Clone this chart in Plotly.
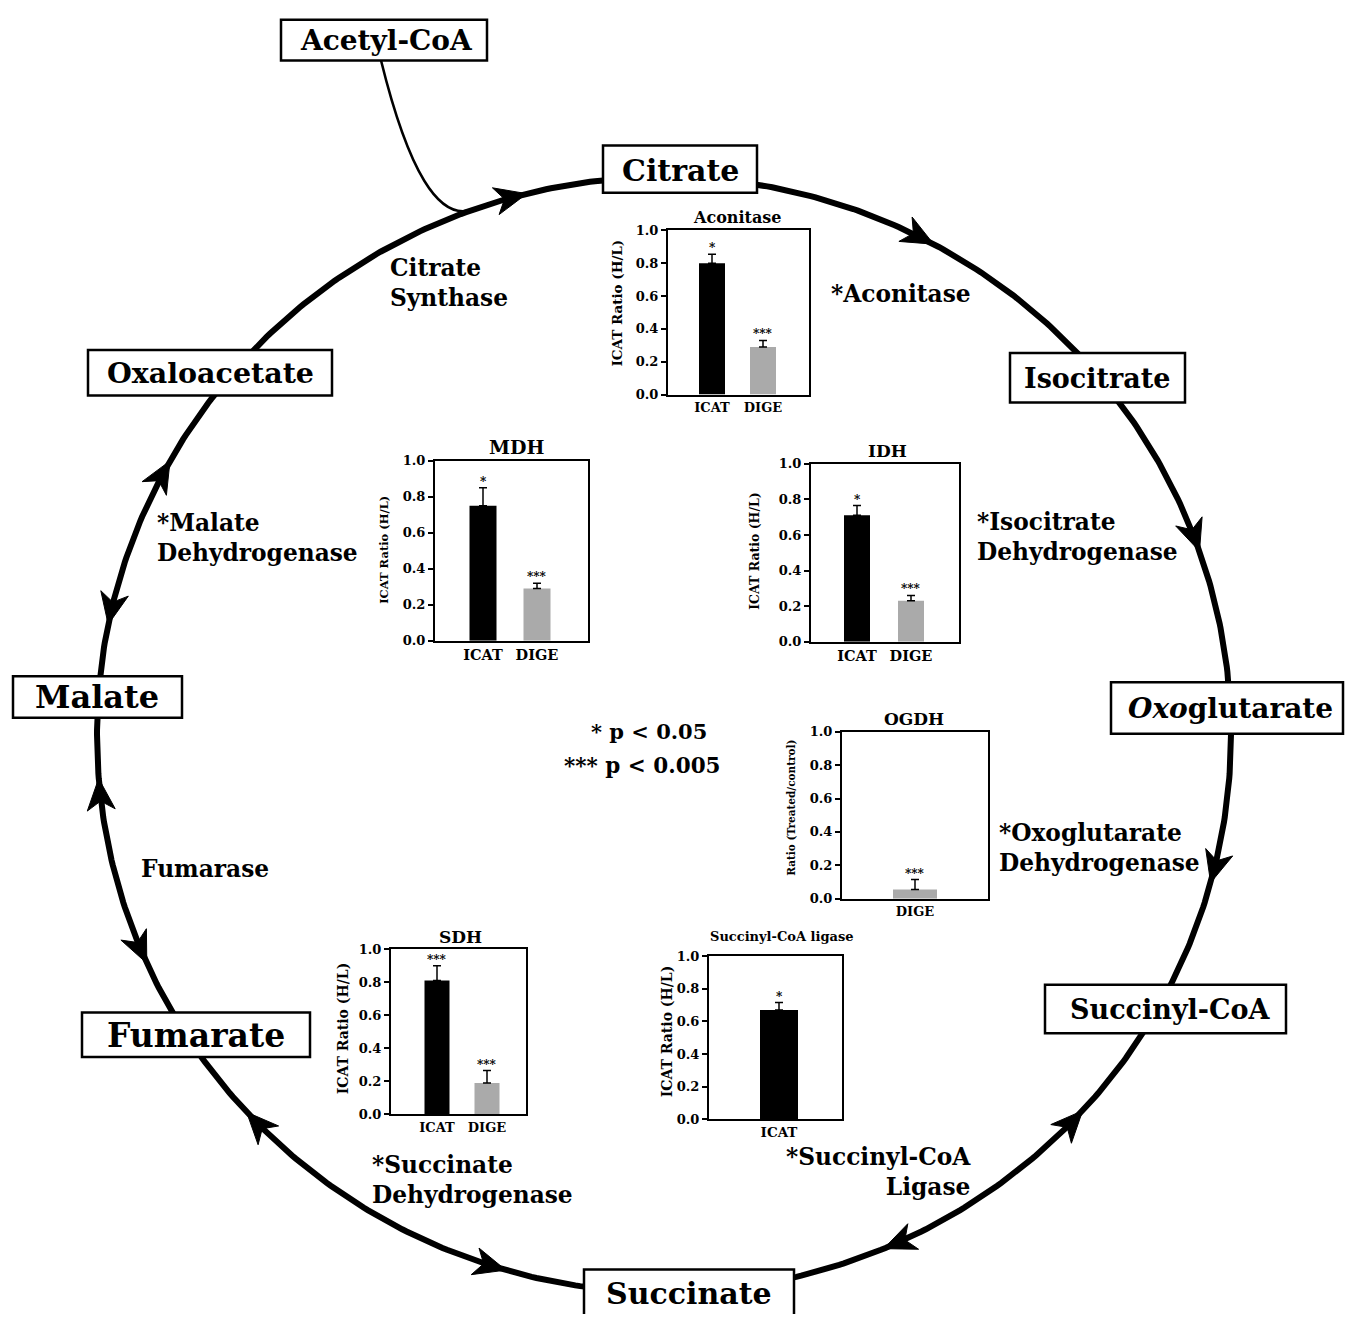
import numpy as np
import plotly.graph_objects as go

# ---------------- data ----------------
aconitase_methods = ["ICAT", "DIGE"]
aconitase_ratio = [0.80, 0.29]
aconitase_sem = [0.055, 0.04]
aconitase_sig = ["*", "***"]

mdh_methods = ["ICAT", "DIGE"]
mdh_ratio = [0.75, 0.29]
mdh_sem = [0.10, 0.03]
mdh_sig = ["*", "***"]

idh_methods = ["ICAT", "DIGE"]
idh_ratio = [0.71, 0.23]
idh_sem = [0.055, 0.03]
idh_sig = ["*", "***"]

ogdh_methods = ["DIGE"]
ogdh_ratio = [0.055]
ogdh_sem = [0.06]
ogdh_sig = ["***"]

scl_methods = ["ICAT"]
scl_ratio = [0.67]
scl_sem = [0.045]
scl_sig = ["*"]

sdh_methods = ["ICAT", "DIGE"]
sdh_ratio = [0.81, 0.19]
sdh_sem = [0.09, 0.075]
sdh_sig = ["***", "***"]

ratio_ticks = [0.0, 0.2, 0.4, 0.6, 0.8, 1.0]
ratio_tick_labels = ["0.0", "0.2", "0.4", "0.6", "0.8", "1.0"]

metabolites = ["Acetyl-CoA", "Citrate", "Isocitrate", "<i>Oxo</i>glutarate",
               "Succinyl-CoA", "Succinate", "Fumarate", "Malate", "Oxaloacetate"]
enzyme_texts = ["Citrate<br>Synthase", "*Aconitase", "*Isocitrate<br>Dehydrogenase",
                "*Oxoglutarate<br>Dehydrogenase", "*Succinyl-CoA<br>Ligase",
                "*Succinate<br>Dehydrogenase", "Fumarase", "*Malate<br>Dehydrogenase"]
legend_texts = ["* p < 0.05", "*** p < 0.005"]

# ---------------- layout constants ----------------
W, H = 1345, 1322
CX, CY, RX, RY = 664, 736, 567, 564
SERIF = "DejaVu Serif"
method_colors = {"ICAT": "#000000", "DIGE": "#aaaaaa"}


def bfont(size, color="black"):
    return dict(family=SERIF, size=size, color=color, weight="bold")


panels = [
    dict(title="Aconitase", cats=aconitase_methods, vals=aconitase_ratio, errs=aconitase_sem, sig=aconitase_sig,
         box=(668, 809, 226, 392), centers=(712, 763), bw=26, ytitle="ICAT Ratio (H/L)",
         ytitle_xy=(617, 300), ytitle_size=13.5, title_xy=(737, 213), title_size=16, xt=13),
    dict(title="MDH", cats=mdh_methods, vals=mdh_ratio, errs=mdh_sem, sig=mdh_sig,
         box=(435, 588, 459, 641), centers=(483, 537), bw=27, ytitle="ICAT Ratio (H/L)",
         ytitle_xy=(384, 549), ytitle_size=11.5, title_xy=(517, 445), title_size=19, xt=14.5),
    dict(title="IDH", cats=idh_methods, vals=idh_ratio, errs=idh_sem, sig=idh_sig,
         box=(811, 959, 462, 642), centers=(857, 911), bw=26, ytitle="ICAT Ratio (H/L)",
         ytitle_xy=(755, 551), ytitle_size=12.5, title_xy=(887, 449), title_size=17, xt=14.5),
    dict(title="OGDH", cats=ogdh_methods, vals=ogdh_ratio, errs=ogdh_sem, sig=ogdh_sig,
         box=(842, 988, 733, 902), centers=(915,), bw=44, ytitle="Ratio (Treated/control)",
         ytitle_xy=(791, 810), ytitle_size=10.5, title_xy=(914, 720), title_size=17, xt=13),
    dict(title="Succinyl-CoA ligase", cats=scl_methods, vals=scl_ratio, errs=scl_sem, sig=scl_sig,
         box=(709, 842, 960, 1125), centers=(779,), bw=38, ytitle="ICAT Ratio (H/L)",
         ytitle_xy=(667, 1036), ytitle_size=14, title_xy=(782, 940), title_size=13, xt=13.5),
    dict(title="SDH", cats=sdh_methods, vals=sdh_ratio, errs=sdh_sem, sig=sdh_sig,
         box=(391, 526, 953, 1120), centers=(437, 487), bw=25, ytitle="ICAT Ratio (H/L)",
         ytitle_xy=(343, 1033), ytitle_size=14, title_xy=(460, 941), title_size=17, xt=13),
]

met_boxes = [(281, 487, 13, 54), (603, 757, 140, 188), (1010, 1185, 350, 400), (1111, 1343, 683, 735),
             (1045, 1286, 989, 1038), (584, 794, 1277, 1400), (82, 310, 1017, 1062), (13, 182, 677, 719),
             (88, 332, 347, 393)]
met_text_xy = [(386, 34), (680, 165), (1097, 376), (1230, 710), (1170, 1014), (689, 1301),
               (196, 1040), (97, 698), (210, 370)]
met_sizes = [28, 30, 27, 28, 27, 30, 33, 32, 28.5]

enzyme_pos = [(388, 279, "left"), (829, 290, "left"), (975, 536, "left"), (997, 850, "left"),
              (973, 1178, "right"), (370, 1186, "left"), (139, 871, "left"), (155, 537, "left")]
ENZ_SIZE = 23.3

# arrowheads: (angle deg along ellipse, direction +1 clockwise / -1 counter)
arrow_spec = [(-104, 1), (-61.6, 1), (-19.2, 1), (15.4, 1), (42.4, -1), (67.2, 1),
              (106.2, -1), (137.4, 1), (155.8, -1), (175.5, 1), (191.4, -1), (209.4, 1)]
AL, AW, AN = 32, 14, 9

fig = go.Figure()

# main cycle circle
t = np.linspace(0, 2 * np.pi, 721)
fig.add_trace(go.Scatter(x=CX + RX * np.cos(t), y=CY + RY * np.sin(t), mode="lines",
                         line=dict(color="black", width=6), hoverinfo="skip",
                         showlegend=False, xaxis="x", yaxis="y"))

layout = dict(
    width=W, height=H, margin=dict(l=0, r=0, t=0, b=0, pad=0),
    paper_bgcolor="white", plot_bgcolor="rgba(0,0,0,0)", showlegend=False,
    xaxis=dict(domain=[0, 1], range=[0, W], visible=False, fixedrange=True),
    yaxis=dict(domain=[0, 1], range=[H, 0], visible=False, fixedrange=True),
)

annotations = []
shapes = []

for k, p in enumerate(panels, start=2):
    l, r, top, bot = p["box"]
    c = p["centers"]
    sp = float(c[1] - c[0]) if len(c) > 1 else 100.0
    x_range = [-(c[0] - l) / sp, (r - c[0]) / sp]
    fig.add_trace(go.Bar(
        x=p["cats"], y=p["vals"], width=p["bw"] / sp,
        marker=dict(color=[method_colors[m] for m in p["cats"]], line=dict(width=0)),
        error_y=dict(type="data", array=p["errs"], arrayminus=[0] * len(p["errs"]),
                     symmetric=False, color="black", thickness=1.5, width=4),
        xaxis=f"x{k}", yaxis=f"y{k}", showlegend=False, hoverinfo="skip"))
    layout[f"xaxis{k}"] = dict(domain=[l / W, r / W], anchor=f"y{k}", range=x_range, type="category",
                               showline=True, mirror=True, linecolor="black", linewidth=2, ticks="",
                               showgrid=False, zeroline=False, tickfont=bfont(p["xt"]), fixedrange=True)
    layout[f"yaxis{k}"] = dict(domain=[1 - bot / H, 1 - top / H], anchor=f"x{k}", range=[0, 1],
                               tickvals=ratio_ticks, ticktext=ratio_tick_labels, ticks="outside",
                               ticklen=5, tickwidth=1.5, tickcolor="black", showline=True, mirror=True,
                               linecolor="black", linewidth=2, showgrid=False, zeroline=False,
                               tickfont=bfont(13), fixedrange=True)
    # significance stars
    for cat, v, e, s in zip(p["cats"], p["vals"], p["errs"], p["sig"]):
        annotations.append(dict(x=cat, y=v + e, xref=f"x{k}", yref=f"y{k}", text=s, showarrow=False,
                                yanchor="bottom", yshift=-3, font=bfont(12)))
    # panel title
    annotations.append(dict(x=p["title_xy"][0], y=p["title_xy"][1], xref="x", yref="y", text=p["title"],
                            showarrow=False, font=bfont(p["title_size"])))
    # y axis title
    annotations.append(dict(x=p["ytitle_xy"][0], y=p["ytitle_xy"][1], xref="x", yref="y", text=p["ytitle"],
                            showarrow=False, textangle=-90, font=bfont(p["ytitle_size"])))

# Acetyl-CoA feeding curve
shapes.append(dict(type="path", xref="x", yref="y", path="M 381,54 Q 422,222 472,205",
                   line=dict(color="black", width=2.5)))

# arrowheads
for ang, sgn in arrow_spec:
    th = np.deg2rad(ang)
    tx, ty = CX + RX * np.cos(th), CY + RY * np.sin(th)
    dx, dy = -RX * np.sin(th) * sgn, RY * np.cos(th) * sgn
    n = np.hypot(dx, dy)
    dx, dy = dx / n, dy / n
    px_, py_ = -dy, dx
    b1 = (tx - AL * dx + AW * px_, ty - AL * dy + AW * py_)
    b2 = (tx - AL * dx - AW * px_, ty - AL * dy - AW * py_)
    nn = (tx - (AL - AN) * dx, ty - (AL - AN) * dy)
    path = (f"M {tx:.1f},{ty:.1f} L {b1[0]:.1f},{b1[1]:.1f} L {nn[0]:.1f},{nn[1]:.1f} "
            f"L {b2[0]:.1f},{b2[1]:.1f} Z")
    shapes.append(dict(type="path", xref="x", yref="y", path=path, fillcolor="black",
                       line=dict(color="black", width=1)))

# metabolite boxes
for (x0, x1, y0, y1) in met_boxes:
    shapes.append(dict(type="rect", xref="x", yref="y", x0=x0, x1=x1, y0=y0, y1=y1,
                       fillcolor="white", line=dict(color="black", width=2.5)))
for name, (x, y), s in zip(metabolites, met_text_xy, met_sizes):
    annotations.append(dict(x=x, y=y, xref="x", yref="y", text=name, showarrow=False, font=bfont(s)))

# enzyme labels
for txt, (x, y, anc) in zip(enzyme_texts, enzyme_pos):
    annotations.append(dict(x=x, y=y, xref="x", yref="y", text=txt, showarrow=False, xanchor=anc,
                            align=anc, font=bfont(ENZ_SIZE)))

# significance legend
annotations.append(dict(x=709, y=733, xref="x", yref="y", text=legend_texts[0], showarrow=False,
                        xanchor="right", font=bfont(21)))
annotations.append(dict(x=723, y=767, xref="x", yref="y", text=legend_texts[1], showarrow=False,
                        xanchor="right", font=bfont(21.5)))

layout["annotations"] = annotations
layout["shapes"] = shapes
fig.update_layout(**layout)

pin_js = ("var s=document.createElement('style');"
          "s.textContent='html,body{margin:0;padding:0;overflow:hidden;}';"
          "document.head.appendChild(s);"
          "var d=document.getElementById('{plot_id}');"
          "d.style.position='fixed';d.style.top='0px';d.style.left='0px';")
fig.write_html("out.html", config={"displayModeBar": False}, post_script=pin_js)
